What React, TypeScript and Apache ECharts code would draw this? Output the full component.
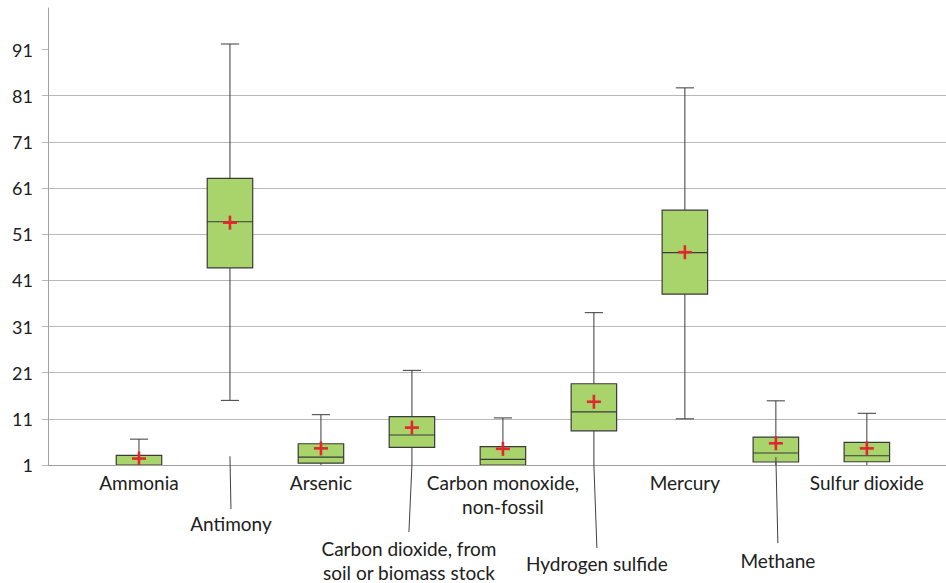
import React, { useEffect, useRef } from "react";
import * as echarts from "echarts";

// ---- data ----
const categories = [
  "Ammonia",
  "Antimony",
  "Arsenic",
  "Carbon dioxide, from\nsoil or biomass stock",
  "Carbon monoxide,\nnon-fossil",
  "Hydrogen sulfide",
  "Mercury",
  "Methane",
  "Sulfur dioxide",
];
const positions = [1, 2, 3, 4, 5, 6, 7, 8, 9];
const mins = [0.8, 15.0, 0.8, 0.8, 0.8, 0.8, 11.0, 0.8, 0.8];
const q1s = [0.8, 43.7, 1.4, 4.8, 1.0, 8.4, 38.0, 1.65, 1.7];
const medians = [1.0, 53.7, 2.7, 7.5, 2.2, 12.5, 47.0, 3.6, 3.0];
const q3s = [3.1, 63.1, 5.6, 11.5, 5.0, 18.6, 56.2, 7.05, 5.9];
const maxs = [6.6, 92.2, 11.9, 21.5, 11.2, 34.0, 82.7, 14.9, 12.2];
const means = [2.4, 53.5, 4.6, 9.1, 4.5, 14.7, 47.1, 5.7, 4.6];
// value where each label's leader line starts (null = no leader)
const leaderFrom: (number | null)[] = [null, 2.9, null, 1.0, null, 1.0, null, 2.7, null];

// axis settings (y ticks are 1, 11, 21, ... 91)
const Y_FIRST_TICK = 1;
const Y_TOP = 100;
const Y_STEP = 10;
const X_MAX = 9.87;

// ---- layout / style (pixels) ----
const labelDy = [17, 58, 17, 95, 29, 98, 17, 95, 17];
const labelDx = [0, 1, 0, -3, 0, 3, 0, 2, 0];
const leaderEndDy = [0, 44, 0, 67, 0, 83, 0, 78, 0];

const FONT = "Lato, 'Noto Sans', sans-serif";
const TEXT = "#202020";
const GREEN = "#a9d36b";
const BORDER = "#3a3a3a";
const RED = "#e0282e";
const GRID = "#b8b8b8";
const AXIS = "#a0a0a0";

export default function App() {
  const ref = useRef<HTMLDivElement>(null);

  useEffect(() => {
    const chart = echarts.init(ref.current!, null, { renderer: "svg" });

    const boxData = positions.map((x, i) => [
      x,
      mins[i],
      q1s[i],
      medians[i],
      q3s[i],
      maxs[i],
      means[i],
    ]);
    const labelData = positions.map((x, i) => [x, leaderFrom[i] ?? Y_FIRST_TICK]);

    const renderBox = (params: any, api: any) => {
      const x = api.value(0);
      const mn = api.value(1);
      const q1 = api.value(2);
      const md = api.value(3);
      const q3 = api.value(4);
      const mx = api.value(5);
      const mean = api.value(6);
      const c = (v: number) => api.coord([x, v - Y_FIRST_TICK]);
      const cx = c(md)[0];
      const unit = api.size([1, 0])[0];
      const bw = unit * 0.5;
      const cw = unit * 0.2;
      const yMn = c(mn)[1];
      const yQ1 = c(q1)[1];
      const yMd = c(md)[1];
      const yQ3 = c(q3)[1];
      const yMx = c(mx)[1];
      const yMean = c(mean)[1];
      const ls = { stroke: BORDER, lineWidth: 1 };
      return {
        type: "group",
        children: [
          { type: "line", shape: { x1: cx, y1: yQ3, x2: cx, y2: yMx }, style: ls },
          { type: "line", shape: { x1: cx - cw / 2, y1: yMx, x2: cx + cw / 2, y2: yMx }, style: ls },
          { type: "line", shape: { x1: cx, y1: yQ1, x2: cx, y2: yMn }, style: ls },
          { type: "line", shape: { x1: cx - cw / 2, y1: yMn, x2: cx + cw / 2, y2: yMn }, style: ls },
          {
            type: "rect",
            shape: { x: cx - bw / 2, y: yQ3, width: bw, height: yQ1 - yQ3 },
            style: { fill: GREEN, stroke: BORDER, lineWidth: 1.2 },
          },
          { type: "line", shape: { x1: cx - bw / 2, y1: yMd, x2: cx + bw / 2, y2: yMd }, style: { stroke: BORDER, lineWidth: 1.2 } },
          { type: "line", shape: { x1: cx - 7, y1: yMean, x2: cx + 7, y2: yMean }, style: { stroke: RED, lineWidth: 2.6 } },
          { type: "line", shape: { x1: cx, y1: yMean - 7, x2: cx, y2: yMean + 7 }, style: { stroke: RED, lineWidth: 2.6 } },
        ],
      };
    };

    const renderLabel = (params: any, api: any) => {
      const i = params.dataIndex;
      const x = api.value(0);
      const from = api.value(1);
      const base = api.coord([x, 0]);
      const tx = base[0] + labelDx[i];
      const ty = base[1] + labelDy[i];
      const children: any[] = [];
      if (leaderFrom[i] != null) {
        const top = api.coord([x, from - Y_FIRST_TICK]);
        children.push({
          type: "line",
          shape: { x1: top[0], y1: top[1], x2: tx, y2: base[1] + leaderEndDy[i] },
          style: { stroke: "#404040", lineWidth: 1 },
        });
      }
      children.push({
        type: "text",
        x: tx,
        y: ty,
        style: {
          text: categories[i],
          fill: TEXT,
          fontSize: 19,
          fontFamily: FONT,
          align: "center",
          verticalAlign: "middle",
          lineHeight: 24,
        },
      });
      return { type: "group", children };
    };

    chart.setOption({
      animation: false,
      grid: { left: 48, right: 0, top: 8, bottom: 118 },
      xAxis: {
        type: "value",
        min: 0,
        max: X_MAX,
        axisLine: { show: true, onZero: false, lineStyle: { color: AXIS, width: 1 } },
        axisTick: { show: false },
        axisLabel: { show: false },
        splitLine: { show: false },
      },
      yAxis: {
        type: "value",
        min: 0,
        max: Y_TOP - Y_FIRST_TICK,
        interval: Y_STEP,
        axisLine: { show: true, lineStyle: { color: AXIS, width: 1 } },
        axisTick: {
          show: true,
          length: 6,
          lineStyle: { color: GRID },
          customValues: [0, 10, 20, 30, 40, 50, 60, 70, 80, 90],
        },
        axisLabel: {
          fontSize: 18,
          fontFamily: FONT,
          color: TEXT,
          margin: 15,
          showMaxLabel: false,
          formatter: (v: number) => String(Math.round(v + Y_FIRST_TICK)),
        },
        splitLine: { show: true, showMinLine: false, showMaxLine: false, lineStyle: { color: GRID, width: 1 } },
      },
      series: [
        {
          type: "custom",
          renderItem: renderBox,
          data: boxData,
          encode: { x: 0, y: [1, 2, 3, 4, 5, 6] },
          clip: true,
          z: 3,
        },
        {
          type: "custom",
          renderItem: renderLabel,
          data: labelData,
          encode: { x: 0, y: 1 },
          clip: false,
          z: 4,
        },
      ],
    });

    return () => chart.dispose();
  }, []);

  return (
    <div
      ref={ref}
      style={{ position: "fixed", left: 0, top: 0, width: 946, height: 583, background: "#fff" }}
    />
  );
}
